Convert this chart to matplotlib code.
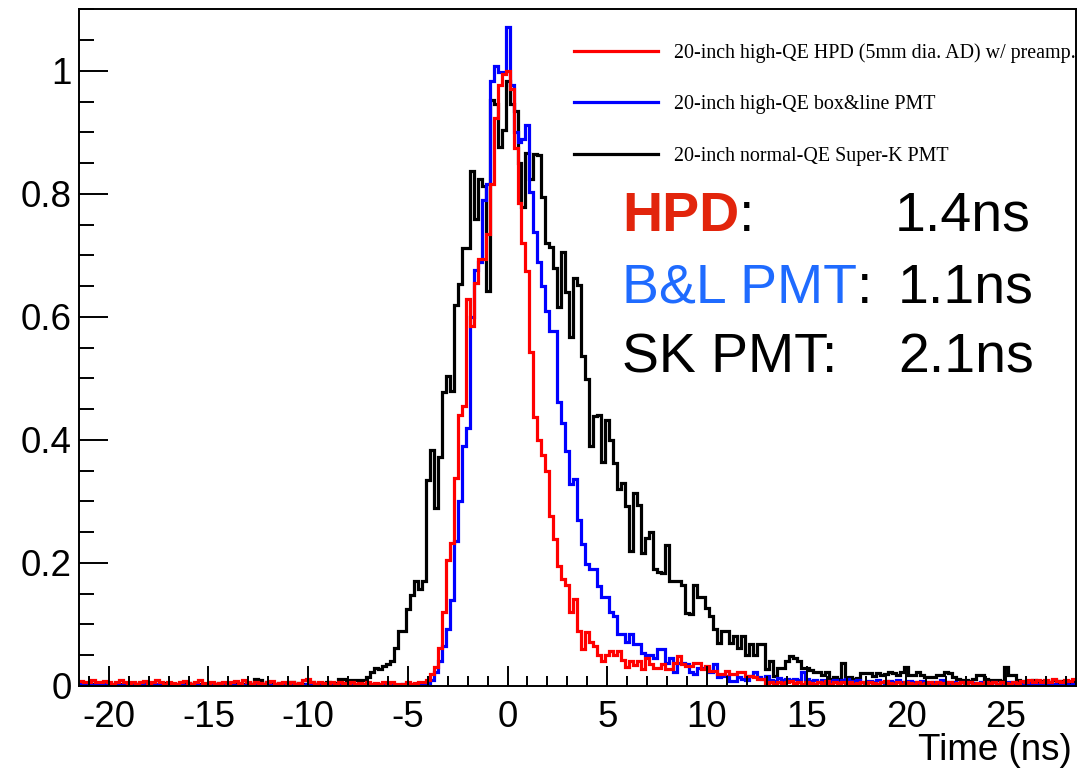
# Timing distributions of the 20-inch photo-sensors (HPD, box&line PMT, Super-K PMT)

import numpy as np
from matplotlib import pyplot as plt
from matplotlib.lines import Line2D
from matplotlib.ticker import MultipleLocator

plt.rcParams['font.family'] = ['Liberation Sans', 'DejaVu Sans']

# binning of the histograms: 250 bins of 0.2 ns
t_min, t_max, n_bins = -21.5, 28.5, 250

# red: 20-inch high-QE HPD
hpd = [
    0.008, 0.007, 0.006, 0.009, 0.007, 0.006, 0.008, 0.007, 0.004, 0.006,
    0.010, 0.006, 0.005, 0.007, 0.004, 0.006, 0.008, 0.005, 0.007, 0.009,
    0.006, 0.004, 0.007, 0.005, 0.004, 0.006, 0.008, 0.005, 0.003, 0.006,
    0.009, 0.005, 0.004, 0.006, 0.003, 0.005, 0.007, 0.004, 0.006, 0.008,
    0.005, 0.009, 0.006, 0.004, 0.007, 0.005, 0.003, 0.006, 0.008, 0.004,
    0.005, 0.007, 0.004, 0.006, 0.003, 0.005, 0.009, 0.011, 0.006, 0.004,
    0.006, 0.005, 0.004, 0.007, 0.003, 0.006, 0.005, 0.004, 0.006, 0.003,
    0.005, 0.004, 0.006, 0.003, 0.005, 0.004, 0.007, 0.005, 0.006, 0.004,
    0.004, 0.003, 0.006, 0.004, 0.005, 0.007, 0.006, 0.010, 0.020, 0.031,
    0.062, 0.120, 0.205, 0.232, 0.338, 0.441, 0.455, 0.630, 0.585, 0.656,
    0.694, 0.694, 0.735, 0.817, 0.923, 0.977, 0.995, 1.000, 0.970, 0.874,
    0.785, 0.720, 0.674, 0.543, 0.437, 0.400, 0.376, 0.349, 0.277, 0.239,
    0.195, 0.174, 0.164, 0.120, 0.142, 0.090, 0.060, 0.088, 0.072, 0.065,
    0.051, 0.040, 0.051, 0.057, 0.051, 0.057, 0.043, 0.031, 0.040, 0.034,
    0.040, 0.028, 0.046, 0.035, 0.030, 0.030, 0.035, 0.027, 0.027, 0.038,
    0.049, 0.035, 0.033, 0.033, 0.038, 0.038, 0.027, 0.033, 0.024, 0.024,
    0.019, 0.019, 0.024, 0.019, 0.019, 0.022, 0.022, 0.016, 0.016, 0.014,
    0.011, 0.011, 0.005, 0.006, 0.004, 0.007, 0.005, 0.006, 0.008, 0.005,
    0.006, 0.004, 0.007, 0.005, 0.003, 0.006, 0.005, 0.008, 0.004, 0.006,
    0.005, 0.007, 0.004, 0.006, 0.003, 0.005, 0.007, 0.004, 0.006, 0.005,
    0.004, 0.006, 0.008, 0.005, 0.003, 0.006, 0.004, 0.007, 0.005, 0.004,
    0.006, 0.003, 0.005, 0.007, 0.004, 0.006, 0.005, 0.003, 0.006, 0.004,
    0.005, 0.007, 0.004, 0.006, 0.003, 0.005, 0.004, 0.006, 0.005, 0.007,
    0.004, 0.006, 0.005, 0.003, 0.007, 0.005, 0.008, 0.006, 0.009, 0.007,
    0.010, 0.006, 0.009, 0.007, 0.011, 0.008, 0.006, 0.010, 0.008, 0.012,
]

# blue: 20-inch high-QE box&line PMT
bl_pmt = [
    0.003, 0.002, 0.004, 0.002, 0.003, 0.001, 0.003, 0.002, 0.004, 0.002,
    0.002, 0.003, 0.001, 0.002, 0.004, 0.002, 0.003, 0.002, 0.001, 0.003,
    0.003, 0.002, 0.002, 0.004, 0.001, 0.003, 0.002, 0.003, 0.002, 0.001,
    0.002, 0.004, 0.002, 0.001, 0.003, 0.002, 0.003, 0.004, 0.002, 0.002,
    0.003, 0.001, 0.002, 0.003, 0.002, 0.004, 0.002, 0.003, 0.001, 0.002,
    0.002, 0.003, 0.004, 0.002, 0.001, 0.003, 0.002, 0.004, 0.003, 0.002,
    0.003, 0.002, 0.001, 0.003, 0.002, 0.004, 0.002, 0.003, 0.002, 0.001,
    0.002, 0.003, 0.002, 0.004, 0.002, 0.001, 0.003, 0.002, 0.003, 0.002,
    0.002, 0.003, 0.002, 0.003, 0.002, 0.004, 0.003, 0.005, 0.010, 0.022,
    0.041, 0.065, 0.092, 0.140, 0.236, 0.300, 0.390, 0.420, 0.600, 0.677,
    0.690, 0.790, 0.817, 0.984, 1.008, 0.998, 0.998, 1.072, 0.977, 0.900,
    0.885, 0.890, 0.912, 0.803, 0.738, 0.690, 0.650, 0.610, 0.578, 0.578,
    0.461, 0.427, 0.382, 0.328, 0.336, 0.270, 0.231, 0.199, 0.191, 0.191,
    0.162, 0.145, 0.145, 0.120, 0.114, 0.085, 0.085, 0.071, 0.085, 0.068,
    0.068, 0.054, 0.051, 0.050, 0.046, 0.060, 0.060, 0.038, 0.046, 0.022,
    0.038, 0.038, 0.035, 0.022, 0.019, 0.030, 0.030, 0.030, 0.022, 0.035,
    0.014, 0.016, 0.016, 0.008, 0.008, 0.014, 0.012, 0.010, 0.016, 0.022,
    0.014, 0.012, 0.016, 0.010, 0.008, 0.013, 0.010, 0.012, 0.009, 0.011,
    0.010, 0.023, 0.012, 0.008, 0.010, 0.007, 0.009, 0.006, 0.008, 0.010,
    0.007, 0.009, 0.012, 0.006, 0.008, 0.010, 0.007, 0.005, 0.008, 0.006,
    0.009, 0.007, 0.005, 0.008, 0.006, 0.010, 0.007, 0.005, 0.008, 0.006,
    0.005, 0.008, 0.006, 0.004, 0.007, 0.005, 0.009, 0.006, 0.004, 0.007,
    0.005, 0.006, 0.004, 0.007, 0.005, 0.003, 0.006, 0.005, 0.004, 0.006,
    0.004, 0.005, 0.003, 0.006, 0.004, 0.005, 0.003, 0.004, 0.005, 0.003,
    0.004, 0.003, 0.005, 0.003, 0.004, 0.002, 0.004, 0.003, 0.002, 0.004,
]

# black: 20-inch normal-QE Super-K PMT
sk_pmt = [
    0.003, 0.004, 0.002, 0.003, 0.005, 0.002, 0.003, 0.004, 0.002, 0.003,
    0.004, 0.002, 0.003, 0.005, 0.003, 0.002, 0.004, 0.003, 0.002, 0.004,
    0.003, 0.005, 0.002, 0.003, 0.004, 0.002, 0.003, 0.005, 0.003, 0.002,
    0.004, 0.003, 0.002, 0.004, 0.003, 0.005, 0.003, 0.002, 0.004, 0.003,
    0.004, 0.003, 0.005, 0.004, 0.011, 0.009, 0.004, 0.006, 0.003, 0.004,
    0.005, 0.003, 0.004, 0.006, 0.003, 0.005, 0.004, 0.003, 0.006, 0.004,
    0.005, 0.004, 0.006, 0.003, 0.005, 0.011, 0.011, 0.006, 0.010, 0.010,
    0.010, 0.010, 0.014, 0.022, 0.030, 0.027, 0.033, 0.035, 0.040, 0.062,
    0.089, 0.089, 0.126, 0.148, 0.171, 0.157, 0.171, 0.335, 0.383, 0.290,
    0.373, 0.478, 0.504, 0.480, 0.619, 0.654, 0.712, 0.712, 0.837, 0.759,
    0.824, 0.813, 0.643, 0.953, 0.947, 0.877, 0.904, 0.984, 0.947, 0.935,
    0.851, 0.779, 0.866, 0.824, 0.865, 0.863, 0.795, 0.720, 0.714, 0.680,
    0.617, 0.706, 0.640, 0.567, 0.664, 0.652, 0.536, 0.499, 0.390, 0.439,
    0.440, 0.365, 0.432, 0.400, 0.362, 0.320, 0.330, 0.293, 0.220, 0.314,
    0.295, 0.216, 0.240, 0.250, 0.190, 0.185, 0.184, 0.230, 0.171, 0.171,
    0.171, 0.165, 0.119, 0.117, 0.165, 0.144, 0.144, 0.127, 0.114, 0.092,
    0.070, 0.089, 0.089, 0.070, 0.081, 0.062, 0.081, 0.051, 0.068, 0.051,
    0.068, 0.068, 0.027, 0.041, 0.016, 0.030, 0.030, 0.041, 0.049, 0.045,
    0.040, 0.029, 0.029, 0.026, 0.023, 0.023, 0.018, 0.023, 0.012, 0.014,
    0.012, 0.037, 0.012, 0.014, 0.011, 0.013, 0.021, 0.021, 0.021, 0.016,
    0.021, 0.018, 0.020, 0.023, 0.021, 0.018, 0.023, 0.031, 0.018, 0.018,
    0.023, 0.018, 0.015, 0.015, 0.015, 0.018, 0.018, 0.023, 0.021, 0.015,
    0.011, 0.009, 0.010, 0.008, 0.011, 0.018, 0.018, 0.012, 0.010, 0.010,
    0.009, 0.008, 0.031, 0.018, 0.018, 0.010, 0.007, 0.008, 0.006, 0.009,
    0.006, 0.008, 0.005, 0.007, 0.009, 0.006, 0.008, 0.005, 0.007, 0.006,
]

legend_labels = [
    "20-inch high-QE HPD (5mm dia. AD) w/ preamp.",
    "20-inch high-QE box&line PMT",
    "20-inch normal-QE Super-K PMT",
]
x_ticks = [-20, -15, -10, -5, 0, 5, 10, 15, 20, 25]
x_tick_labels = ["-20", "-15", "-10", "-5", "0", "5", "10", "15", "20", "25"]
y_ticks = [0, 0.2, 0.4, 0.6, 0.8, 1.0]
y_tick_labels = ["0", "0.2", "0.4", "0.6", "0.8", "1"]

edges = np.linspace(t_min, t_max, n_bins + 1)

fig = plt.figure(figsize=(10.77, 7.72), dpi=100)
ax = fig.add_axes([0.0732, 0.1114, 0.9257, 0.8763])

# draw the histograms (red on top, like the original)
lw = 2.3
ax.stairs(sk_pmt, edges, color="black", linewidth=lw, baseline=None)
ax.stairs(bl_pmt, edges, color="#0000ff", linewidth=lw, baseline=None)
ax.stairs(hpd, edges, color="#ff0000", linewidth=lw, baseline=None)

ax.set_xlim(t_min, t_max)
ax.set_ylim(0, 1.1)

# ROOT-like axes
for s in ax.spines.values():
    s.set_linewidth(1.4)
ax.set_xticks(x_ticks)
ax.set_xticklabels(x_tick_labels)
ax.set_yticks(y_ticks)
ax.set_yticklabels(y_tick_labels)
ax.xaxis.set_minor_locator(MultipleLocator(1))
ax.yaxis.set_minor_locator(MultipleLocator(0.05))
ax.tick_params(axis="y", which="major", direction="in", length=21, width=1.4, labelsize=26.5, pad=5)
ax.tick_params(axis="y", which="minor", direction="in", length=10.5, width=1.4)
ax.tick_params(axis="x", which="major", direction="in", length=14.4, width=1.4, labelsize=26.5, pad=10)
ax.tick_params(axis="x", which="minor", direction="in", length=7.2, width=1.4)

ax.set_xlabel("Time (ns)", fontsize=26.5, ha="right", va="baseline")
ax.xaxis.set_label_coords(0.9962, -0.1094)

# legend
handles = [Line2D([], [], color=c, linewidth=lw) for c in ["#ff0000", "#0000ff", "black"]]
ax.legend(handles, legend_labels, loc="upper left", bbox_to_anchor=(0.4967, 0.9502),
          frameon=False, borderpad=0, borderaxespad=0, handlelength=4.2, handletextpad=0.8,
          labelspacing=1.62, prop={"family": "Liberation Serif", "size": 14.4})

# time resolution summary
big = 40
t1 = ax.text(5.74, 0.74, "HPD", fontsize=big, fontweight="bold", color="#e2250c", va="baseline")
ax.annotate(":", xy=(1, 0), xycoords=t1, fontsize=big, va="bottom", ha="left")
ax.text(19.41, 0.74, "1.4ns", fontsize=big, va="baseline")
t2 = ax.text(5.74, 0.623, "B&L PMT", fontsize=big, color="#1f6bff", va="baseline")
ax.annotate(":", xy=(1, 0), xycoords=t2, fontsize=big, va="bottom", ha="left")
ax.text(19.58, 0.623, "1.1ns", fontsize=big, va="baseline")
ax.text(5.74, 0.509, "SK PMT:", fontsize=big, va="baseline")
ax.text(19.58, 0.509, "2.1ns", fontsize=big, va="baseline")

fig.savefig("out.png", dpi=100)
